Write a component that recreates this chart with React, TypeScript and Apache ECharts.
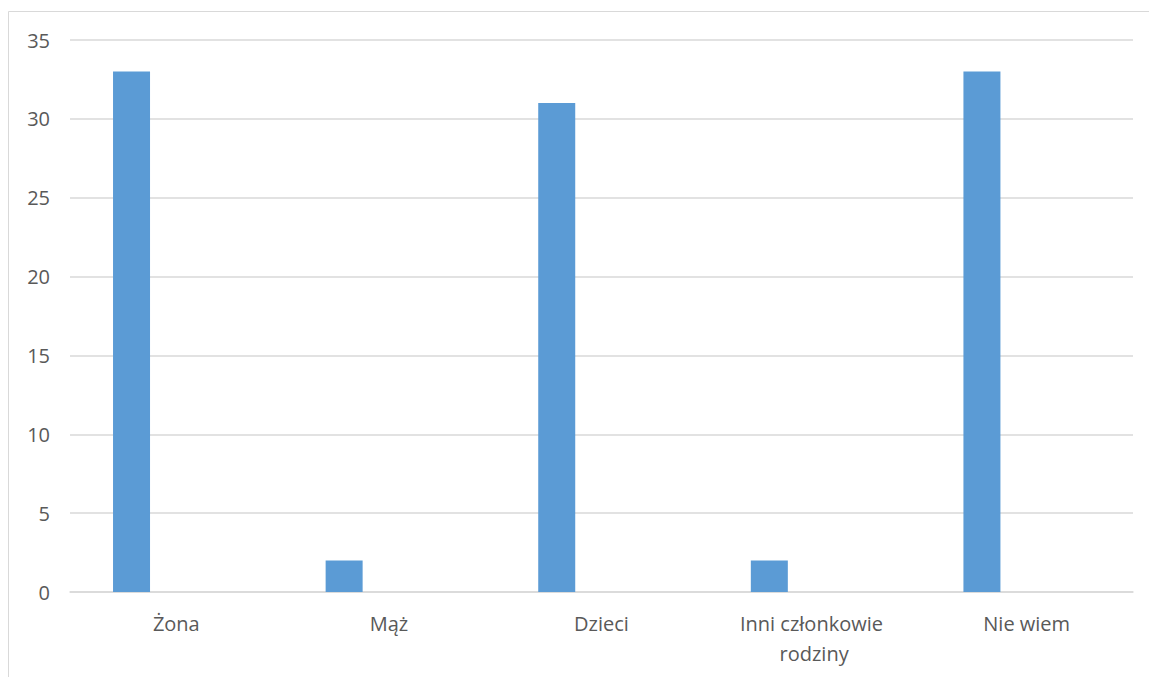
import React, { useEffect, useRef } from "react";
import * as echarts from "echarts";

const categories = ["Żona", "Mąż", "Dzieci", "Inni członkowie rodziny", "Nie wiem"];
const values = [33, 2, 31, 2, 33];
const emptySeries = ["-", "-", "-", "-", "-"];
const yTicks = { min: 0, max: 35, interval: 5 };

export default function App() {
  const ref = useRef<HTMLDivElement>(null);
  useEffect(() => {
    const chart = echarts.init(ref.current!, undefined, { renderer: "svg" });
    const font = "'Open Sans', sans-serif";
    chart.setOption({
      animation: false,
      backgroundColor: "#ffffff",
      textStyle: { fontFamily: font },
      grid: { left: 70, right: 16, top: 40, bottom: 85, containLabel: false },
      graphic: [
        {
          type: "rect",
          shape: { x: 8.5, y: 11.5, width: 1200, height: 700 },
          style: { fill: "none", stroke: "#d9d9d9", lineWidth: 1 },
          silent: true,
        },
      ],
      xAxis: {
        type: "category",
        data: categories,
        axisLine: { show: true, lineStyle: { color: "#d9d9d9", width: 1.5 } },
        axisTick: { show: false },
        axisLabel: {
          color: "#595959",
          fontSize: 20,
          fontFamily: font,
          margin: 16,
          lineHeight: 30,
          width: 190,
          overflow: "break",
          interval: 0,
        },
      },
      yAxis: {
        type: "value",
        min: yTicks.min,
        max: yTicks.max,
        interval: yTicks.interval,
        axisLine: { show: false },
        axisTick: { show: false },
        splitLine: { lineStyle: { color: "#d9d9d9", width: 1.5 } },
        axisLabel: { color: "#595959", fontSize: 20, fontFamily: font, margin: 20 },
      },
      series: [
        {
          type: "bar",
          data: values,
          barWidth: 37,
          barGap: "142%",
          itemStyle: { color: "#5b9bd5" },
        },
        {
          type: "bar",
          data: emptySeries,
          barWidth: 37,
          itemStyle: { color: "#ed7d31" },
        },
      ],
    });
    return () => chart.dispose();
  }, []);
  return (
    <div
      ref={ref}
      style={{ position: "fixed", left: 0, top: 0, width: 1149, height: 677 }}
    />
  );
}
